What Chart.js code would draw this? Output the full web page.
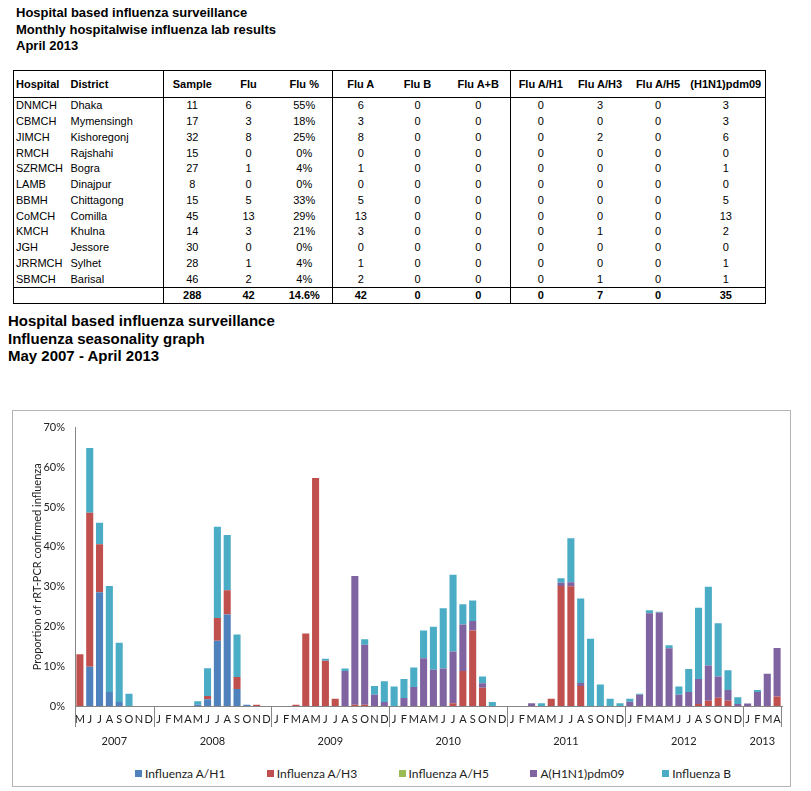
<!DOCTYPE html>
<html>
<head>
<meta charset="utf-8">
<script src="https://cdn.jsdelivr.net/npm/chart.js@4.4.0/dist/chart.umd.min.js"></script>
<style>
  body { margin: 0; background: #fff; font-family: "Liberation Sans", Arial, sans-serif; color: #000; }
  .title1 { position: absolute; left: 16px; top: 5px; font-weight: bold; font-size: 13px; line-height: 16.5px; }
  .title2 { position: absolute; left: 8px; top: 312px; font-weight: bold; font-size: 15px; line-height: 17.7px; }
  table.lab { position: absolute; left: 13px; top: 70px; border-collapse: collapse; table-layout: fixed;
              font-size: 11px; border: 1px solid #000; }
  table.lab td { padding: 0; height: 15.75px; line-height: 15px; text-align: center; white-space: nowrap; }
  table.lab td.l { text-align: left; padding-left: 2px; }
  table.lab tr.head td { height: 26px; font-weight: bold; border-bottom: 1px solid #000; }
  table.lab tr.tot td { height: 15px; font-weight: bold; border-top: 1px solid #000; }
  table.lab td.sep { border-left: 1px solid #000; }
  #box { position: absolute; left: 12px; top: 410px; width: 777px; height: 375px; border: 1px solid #b4b4b4; }
  #chart { position: absolute; left: 0; top: 0; }
  #legend { position: absolute; left: 122px; top: 355px; display: flex; font-family: Lato, sans-serif; font-size: 12px; color: #222; }
  #legend div { width: 131.8px; display: flex; align-items: center; white-space: nowrap; }
  #legend span.sw { width: 7px; height: 7px; margin-right: 3px; display: inline-block; }
</style>
</head>
<body>

<div class="title1">Hospital based influenza surveillance<br>Monthly hospitalwise influenza lab results<br>April 2013</div>

<table class="lab" id="lab">
  <colgroup>
    <col style="width:55px"><col style="width:95px">
    <col style="width:57px"><col style="width:56px"><col style="width:56px">
    <col style="width:56px"><col style="width:58px"><col style="width:64px">
    <col style="width:60px"><col style="width:59px"><col style="width:57px"><col style="width:79px">
  </colgroup>
  <tbody id="labBody"></tbody>
</table>

<div class="title2">Hospital based influenza surveillance<br>Influenza seasonality graph<br>May 2007 - April 2013</div>

<div id="box">
  <canvas id="chart" width="776" height="345"></canvas>
  <div id="legend"></div>
</div>

<script>
/* ======================================================
   TABLE DATA — April 2013
====================================================== */

const tableHeaders = ['Hospital', 'District', 'Sample', 'Flu', 'Flu %', 'Flu A', 'Flu B', 'Flu A+B',
                      'Flu A/H1', 'Flu A/H3', 'Flu A/H5', '(H1N1)pdm09'];
const hospitals = ['DNMCH', 'CBMCH', 'JIMCH', 'RMCH', 'SZRMCH', 'LAMB', 'BBMH', 'CoMCH', 'KMCH', 'JGH', 'JRRMCH', 'SBMCH'];
const districts = ['Dhaka', 'Mymensingh', 'Kishoregonj', 'Rajshahi', 'Bogra', 'Dinajpur', 'Chittagong', 'Comilla', 'Khulna', 'Jessore', 'Sylhet', 'Barisal'];
const samples   = [11, 17, 32, 15, 27, 8, 15, 45, 14, 30, 28, 46];
const flu       = [6, 3, 8, 0, 1, 0, 5, 13, 3, 0, 1, 2];
const fluPct    = ['55%', '18%', '25%', '0%', '4%', '0%', '33%', '29%', '21%', '0%', '4%', '4%'];
const fluA      = [6, 3, 8, 0, 1, 0, 5, 13, 3, 0, 1, 2];
const fluB      = [0, 0, 0, 0, 0, 0, 0, 0, 0, 0, 0, 0];
const fluAB     = [0, 0, 0, 0, 0, 0, 0, 0, 0, 0, 0, 0];
const fluH1     = [0, 0, 0, 0, 0, 0, 0, 0, 0, 0, 0, 0];
const fluH3     = [3, 0, 2, 0, 0, 0, 0, 0, 1, 0, 0, 1];
const fluH5     = [0, 0, 0, 0, 0, 0, 0, 0, 0, 0, 0, 0];
const fluPdm    = [3, 3, 6, 0, 1, 0, 5, 13, 2, 0, 1, 1];
const totals    = ['', '', 288, 42, '14.6%', 42, 0, 0, 0, 7, 0, 35];

/* ======================================================
   CHART DATA — % positive, May 2007 .. April 2013
====================================================== */

const years = ['2007', '2008', '2009', '2010', '2011', '2012', '2013'];
const monthInitials = ['J', 'F', 'M', 'A', 'M', 'J', 'J', 'A', 'S', 'O', 'N', 'D'];
const monthNames = ['Jan', 'Feb', 'Mar', 'Apr', 'May', 'Jun', 'Jul', 'Aug', 'Sep', 'Oct', 'Nov', 'Dec'];

//                 2007: May..Dec               2008: Jan..Dec                                   2009                                           2010                                               2011                                              2012                                               2013 Jan..Apr
const h1   = [0, 9.9, 28.6, 3.5, 1.0, 0, 0, 0,   0, 0, 0, 0, 0.4, 1.7, 16.4, 23.0, 4.3, 0.3, 0, 0,   0, 0, 0, 0, 0, 0, 0, 0, 0, 0, 0, 0,          0, 0, 0, 0, 0, 0, 0, 0, 0, 0, 0, 0,                0, 0, 0, 0, 0, 0, 0, 0, 0, 0, 0, 0,                0, 0, 0, 0, 0, 0, 0, 0, 0, 0, 0, 0,                 0, 0, 0, 0];
const h3   = [13.0, 38.7, 12.1, 0, 0, 0, 0, 0,   0, 0, 0, 0, 0, 0.8, 5.7, 6.1, 3.0, 0, 0.3, 0,       0, 0, 0.3, 18.2, 57.3, 11.4, 1.8, 0, 0.3, 0.3, 0, 0,  0, 0, 0, 0, 0, 0, 0.7, 8.8, 19.0, 4.6, 0, 0,     0, 0, 0, 0, 1.8, 30.2, 30.1, 5.0, 0, 0, 0, 0,      0, 0, 0, 0, 0, 0, 0, 0.5, 1.3, 2.1, 1.3, 0,         0, 0, 0, 2.4];
const h5   = [0, 0, 0, 0, 0, 0, 0, 0,            0, 0, 0, 0, 0, 0, 0, 0, 0, 0, 0, 0,                 0, 0, 0, 0, 0, 0, 0, 0, 0, 0, 0, 0,          0, 0, 0, 0, 0, 0, 0, 0, 0, 0, 0, 0,                0, 0, 0, 0, 0, 0, 0, 0, 0, 0, 0, 0,                0, 0, 0, 0, 0, 0, 0, 0, 0, 0, 0, 0,                 0, 0, 0, 0];
const pdm  = [0, 0, 0, 0, 0, 0, 0, 0,            0, 0, 0, 0, 0, 0, 0, 0, 0, 0, 0, 0,                 0, 0, 0, 0, 0, 0, 0, 8.8, 32.4, 15.1, 2.8, 1.0,  0, 2.0, 4.8, 12.0, 9.1, 9.4, 13.0, 11.7, 2.4, 1.1, 0, 0,  0, 0, 0.7, 0, 0, 0.8, 1.0, 0.8, 0, 0, 0, 0,  1.1, 2.8, 23.3, 23.5, 14.5, 2.8, 3.5, 6.3, 8.9, 5.3, 2.7, 0.5,  0.6, 3.5, 8.1, 12.2];
const fluBSeries = [0, 16.3, 5.4, 26.7, 14.9, 3.1, 0, 0,  0, 0, 0, 0, 0.8, 7.0, 23.0, 13.9, 10.7, 0, 0, 0,  0, 0, 0, 0, 0, 0.5, 0, 0.6, 0, 1.4, 2.2, 5.2,  4.9, 4.8, 4.9, 7.0, 10.8, 15.2, 19.3, 5.1, 5.1, 1.7, 1.0, 0,  0, 0, 0, 0.7, 0, 1.1, 11.1, 21.2, 16.9, 5.4, 1.8, 0.7,  0.7, 0.3, 0.8, 0.2, 0.8, 2.1, 5.8, 17.9, 19.8, 13.4, 5.0, 1.7,  0, 0.5, 0, 0];

const seriesNames  = ['Influenza A/H1', 'Influenza A/H3', 'Influenza A/H5', 'A(H1N1)pdm09', 'Influenza B'];
const seriesColors = ['#4F81BD', '#C0504D', '#9BBB59', '#8064A2', '#4BACC6'];

/* ======================================================
   TABLE BUILD
====================================================== */

const sepCols = [2, 5, 8];
function cellHtml(v, i) {
  const cls = [];
  if (i < 2) cls.push('l');
  if (sepCols.includes(i)) cls.push('sep');
  return `<td class="${cls.join(' ')}">${v}</td>`;
}

const rows = [];
rows.push('<tr class="head">' + tableHeaders.map(cellHtml).join('') + '</tr>');
hospitals.forEach((h, r) => {
  const vals = [h, districts[r], samples[r], flu[r], fluPct[r], fluA[r], fluB[r], fluAB[r],
                fluH1[r], fluH3[r], fluH5[r], fluPdm[r]];
  rows.push('<tr>' + vals.map(cellHtml).join('') + '</tr>');
});
rows.push('<tr class="tot">' + totals.map(cellHtml).join('') + '</tr>');
document.getElementById('labBody').innerHTML = rows.join('');

/* ======================================================
   CATEGORIES (May 2007 .. Apr 2013)
====================================================== */

const labels = [];
const initials = [];
const yearOf = [];
years.forEach((y, yi) => {
  const from = yi === 0 ? 4 : 0;
  const to = yi === years.length - 1 ? 3 : 11;
  for (let m = from; m <= to; m++) {
    labels.push(monthNames[m] + ' ' + y);
    initials.push(monthInitials[m]);
    yearOf.push(y);
  }
});

/* ======================================================
   YEAR LABELS + SEPARATORS PLUGIN
====================================================== */

const yearAxisPlugin = {
  id: 'yearAxis',
  afterDraw(chart) {
    const { ctx, chartArea } = chart;
    const x = chart.scales.x;
    const top = x.top;
    ctx.save();
    ctx.strokeStyle = '#868686';
    ctx.lineWidth = 1;
    ctx.fillStyle = '#222';
    ctx.font = '11px Lato, sans-serif';
    ctx.textAlign = 'center';
    ctx.textBaseline = 'middle';

    years.forEach(y => {
      const s = yearOf.indexOf(y);
      const e = yearOf.lastIndexOf(y);
      const left = s === 0 ? chartArea.left : (x.getPixelForValue(s - 1) + x.getPixelForValue(s)) / 2;
      const cx = (x.getPixelForValue(s) + x.getPixelForValue(e)) / 2;
      const lx = Math.round(left) + 0.5;
      ctx.beginPath();
      ctx.moveTo(lx, top);
      ctx.lineTo(lx, top + 21);
      ctx.stroke();
      ctx.fillText(y, cx, top + 35);
    });

    const rx = Math.round(chartArea.right) - 0.5;
    ctx.beginPath();
    ctx.moveTo(rx, top);
    ctx.lineTo(rx, top + 21);
    ctx.stroke();
    ctx.restore();
  }
};

/* ======================================================
   STACKED BAR CHART
====================================================== */

const seriesData = [h1, h3, h5, pdm, fluBSeries];

const datasets = seriesNames.map((name, i) => ({
  label: name,
  data: seriesData[i],
  backgroundColor: seriesColors[i],
  borderWidth: 0,
  barPercentage: 0.72,
  categoryPercentage: 1
}));

new Chart(document.getElementById('chart'), {
  type: 'bar',
  data: { labels, datasets },
  plugins: [yearAxisPlugin],
  options: {
    responsive: false,
    animation: false,
    layout: { padding: { top: 12, right: 7, bottom: 6, left: 0 } },
    plugins: {
      legend: { display: false },
      tooltip: { enabled: false }
    },
    scales: {
      x: {
        stacked: true,
        grid: { display: false, drawTicks: false },
        border: { display: true, color: '#868686' },
        ticks: {
          autoSkip: false,
          maxRotation: 0,
          padding: 7,
          color: '#222',
          font: { family: 'Lato', size: 11 },
          callback: (v, i) => initials[i]
        },
        afterFit: s => { s.height = 44; }
      },
      y: {
        stacked: true,
        min: 0,
        max: 70,
        grid: { display: false, drawTicks: false },
        border: { display: true, color: '#868686' },
        ticks: {
          stepSize: 10,
          padding: 10,
          color: '#222',
          font: { family: 'Lato', size: 11 },
          callback: v => v + '%'
        },
        title: {
          display: true,
          text: 'Proportion of rRT-PCR confirmed influenza',
          color: '#222',
          font: { family: 'Lato', size: 11 },
          padding: { top: 18, bottom: 0 }
        },
        afterFit: s => { s.width = 62; }
      }
    }
  }
});

/* ======================================================
   LEGEND (HTML)
====================================================== */

document.getElementById('legend').innerHTML = seriesNames.map((n, i) =>
  `<div><span class="sw" style="background:${seriesColors[i]}"></span>${n}</div>`
).join('');
</script>
</body>
</html>
